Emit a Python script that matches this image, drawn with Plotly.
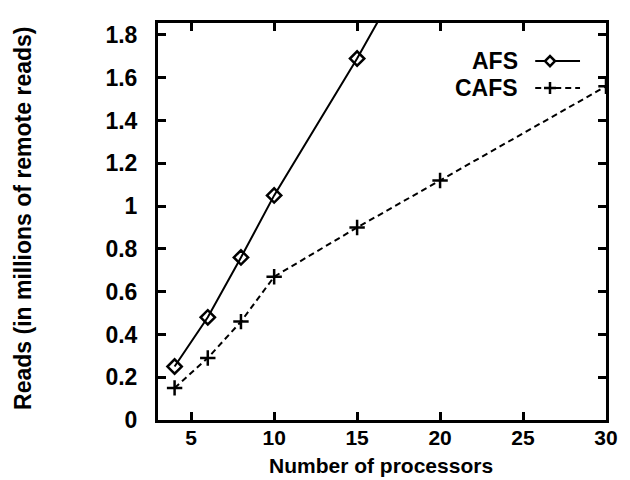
import plotly.graph_objects as go

procs_afs = [4, 6, 8, 10, 15, 20]
reads_afs = [0.25, 0.48, 0.76, 1.05, 1.69, 2.38]
procs_cafs = [4, 6, 8, 10, 15, 20, 30]
reads_cafs = [0.15, 0.29, 0.46, 0.67, 0.90, 1.12, 1.56]
series_names = ["AFS", "CAFS"]
x_ticks = [5, 10, 15, 20, 25, 30]
y_ticks = [0, 0.2, 0.4, 0.6, 0.8, 1, 1.2, 1.4, 1.6, 1.8]
x_title = "Number of processors"
y_title = "Reads (in millions of remote reads)"

FONT = "Liberation Sans"
BOLD = "bold"

fig = go.Figure()
fig.add_trace(go.Scatter(
    x=procs_afs, y=reads_afs, mode="lines+markers", name=series_names[0],
    line=dict(color="black", width=2),
    marker=dict(symbol="diamond-open", size=11, color="black", line=dict(width=2.5, color="black")),
    cliponaxis=True, showlegend=False))
fig.add_trace(go.Scatter(
    x=procs_cafs, y=reads_cafs, mode="lines+markers", name=series_names[1],
    line=dict(color="black", width=2, dash="6px,4px"),
    marker=dict(symbol="cross-thin", size=11, color="black", line=dict(width=2.5, color="black")),
    cliponaxis=True, showlegend=False))

# custom gnuplot-style legend (text left, sample right)
leg_y = [0.904, 0.836]
for i, name in enumerate(series_names):
    fig.add_annotation(x=0.808, y=leg_y[i], xref="paper", yref="paper", text=name,
                       showarrow=False, xanchor="right", yanchor="middle",
                       font=dict(family=FONT, size=23, color="black", weight=BOLD))
    fig.add_shape(type="line", xref="paper", yref="paper",
                  x0=0.842, x1=0.942, y0=leg_y[i], y1=leg_y[i],
                  line=dict(color="black", width=2, dash="solid" if i == 0 else "6px,4px"))
fig.add_shape(type="path", xref="paper", yref="paper", xsizemode="pixel", ysizemode="pixel",
              xanchor=0.875, yanchor=leg_y[0], path="M -5 0 L 0 5 L 5 0 L 0 -5 Z",
              fillcolor="white", line=dict(color="black", width=2.5))
fig.add_shape(type="path", xref="paper", yref="paper", xsizemode="pixel", ysizemode="pixel",
              xanchor=0.875, yanchor=leg_y[1], path="M -6 0 L 6 0 M 0 -6 L 0 6",
              line=dict(color="black", width=2.5))

# axis titles as annotations for precise placement
fig.add_annotation(x=0.497, y=-0.115, xref="paper", yref="paper", text=x_title,
                   showarrow=False, xanchor="center", yanchor="middle",
                   font=dict(family=FONT, size=21, color="black", weight=BOLD))
fig.add_annotation(x=-0.30, y=0.508, xref="paper", yref="paper", text=y_title,
                   showarrow=False, xanchor="center", yanchor="middle", textangle=-90,
                   font=dict(family=FONT, size=23, color="black", weight=BOLD))

axis_common = dict(
    showline=True, linecolor="black", linewidth=3, mirror="ticks",
    ticks="inside", ticklen=8, tickwidth=2.5, tickcolor="black",
    showgrid=False, zeroline=False,
)
fig.update_xaxes(range=[3, 30], tickvals=x_ticks, ticklabelstandoff=-3,
                 tickfont=dict(family=FONT, size=21, color="black", weight=BOLD),
                 **axis_common)
fig.update_yaxes(range=[0, 1.856], tickvals=y_ticks, ticklabelstandoff=13,
                 tickfont=dict(family=FONT, size=23, color="black", weight=BOLD),
                 **axis_common)

fig.update_layout(
    width=630, height=480,
    margin=dict(l=150, r=32, t=15, b=68),
    paper_bgcolor="white", plot_bgcolor="white",
    font=dict(family=FONT, color="black"),
)
fig.write_html("out.html")
